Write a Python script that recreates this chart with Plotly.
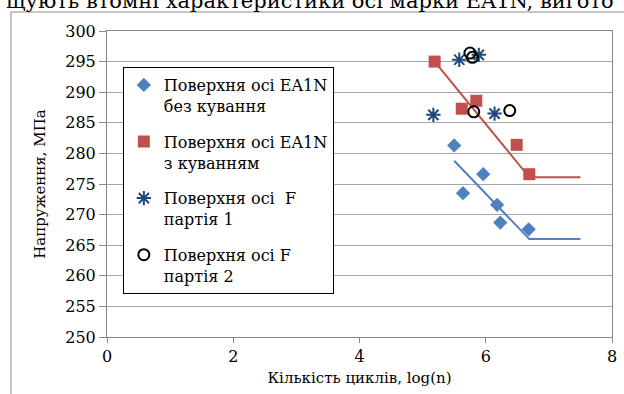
import plotly.graph_objects as go

# Data (log cycles, stress MPa)
blue_x = [5.50, 5.96, 5.64, 6.18, 6.23, 6.68]
blue_y = [281.3, 276.6, 273.5, 271.6, 268.7, 267.6]
blue_fit_x = [5.50, 6.69, 7.50]
blue_fit_y = [278.8, 266.0, 266.0]

red_x = [5.19, 5.62, 5.85, 6.49, 6.69]
red_y = [295.0, 287.3, 288.6, 281.4, 276.6]
red_fit_x = [5.19, 6.69, 7.50]
red_fit_y = [295.0, 276.1, 276.1]

f1_x = [5.17, 5.58, 5.89, 6.14]
f1_y = [286.3, 295.3, 296.1, 286.5]

f2_x = [5.75, 5.79, 5.81, 6.38]
f2_y = [296.4, 295.7, 286.8, 287.0]

names = ["Поверхня осі EA1N<br>без кування",
         "Поверхня осі EA1N<br>з куванням",
         "Поверхня осі  F<br>партія 1",
         "Поверхня осі F<br>партія 2"]

x_ticks = [0, 2, 4, 6, 8]
y_ticks = list(range(250, 301, 5))

FONT = "DejaVu Serif"
BLUE = "#4F81BD"
RED = "#C0504D"
DBLUE = "#1F497D"

fig = go.Figure()
fig.add_trace(go.Scatter(x=blue_fit_x, y=blue_fit_y, mode="lines",
                         line=dict(color=BLUE, width=2), showlegend=False, hoverinfo="skip"))
fig.add_trace(go.Scatter(x=red_fit_x, y=red_fit_y, mode="lines",
                         line=dict(color=RED, width=2), showlegend=False, hoverinfo="skip"))
fig.add_trace(go.Scatter(x=blue_x, y=blue_y, mode="markers", name=names[0], legendgroup="a",
                         marker=dict(symbol="diamond", size=11, color=BLUE)))
fig.add_trace(go.Scatter(x=red_x, y=red_y, mode="markers", name=names[1], legendgroup="b",
                         marker=dict(symbol="square", size=12, color=RED)))
fig.add_trace(go.Scatter(x=f1_x, y=f1_y, mode="markers", name=names[2], legendgroup="c",
                         marker=dict(symbol="asterisk-open", size=12, color=DBLUE,
                                     line=dict(color=DBLUE, width=2))))
fig.add_trace(go.Scatter(x=f2_x, y=f2_y, mode="markers", name=names[3], legendgroup="d",
                         marker=dict(symbol="circle-open", size=11, color="black",
                                     line=dict(color="black", width=2))))

L, R, T, B = 107, 7, 31, 57
W, H = 624, 394
pw = W - L - R
ph = H - T - B

def px(x):
    return (x - L) / pw

def py(y):
    return (H - B - y) / ph

fig.update_layout(
    width=W, height=H,
    margin=dict(l=L, r=R, t=T, b=B),
    paper_bgcolor="white", plot_bgcolor="white",
    font=dict(family=FONT, size=16, color="black"),
    legend=dict(x=px(123), y=py(67), xanchor="left", yanchor="top",
                bgcolor="white", bordercolor="black", borderwidth=1,
                font=dict(family=FONT, size=16, color="black"),
                tracegroupgap=12, valign="top", itemwidth=30),
    xaxis=dict(range=[0, 8], tickvals=x_ticks, ticks="outside", ticklen=5,
               tickcolor="#868686", showline=True, linecolor="#868686", mirror=True,
               showgrid=False, zeroline=False,
               tickfont=dict(family=FONT, size=16),
               title=dict(text="Кількість циклів, log(n)", font=dict(family=FONT, size=15), standoff=7)),
    yaxis=dict(range=[250, 300], tickvals=y_ticks, ticks="outside", ticklen=7,
               tickcolor="#868686", showline=True, linecolor="#868686", mirror=True,
               showgrid=True, gridcolor="#A6A6A6", gridwidth=1, zeroline=False,
               tickfont=dict(family=FONT, size=16),
               title=dict(text="Напруження, МПа", font=dict(family=FONT, size=15), standoff=16)),
)

# outer chart frame (from the source document)
fig.add_shape(type="rect", xref="paper", yref="paper",
              x0=px(10), x1=px(660), y0=py(12), y1=py(420),
              line=dict(color="#8C8C8C", width=1), fillcolor="rgba(0,0,0,0)", layer="below")

# cut-off line of document text above the chart
fig.add_annotation(text="щують втомні характеристики осі марки EA1N, вигото",
                   xref="paper", yref="paper", x=px(312), y=py(15),
                   xanchor="center", yanchor="bottom", showarrow=False,
                   font=dict(family=FONT, size=21, color="black"))

fig.write_html("out.html")
